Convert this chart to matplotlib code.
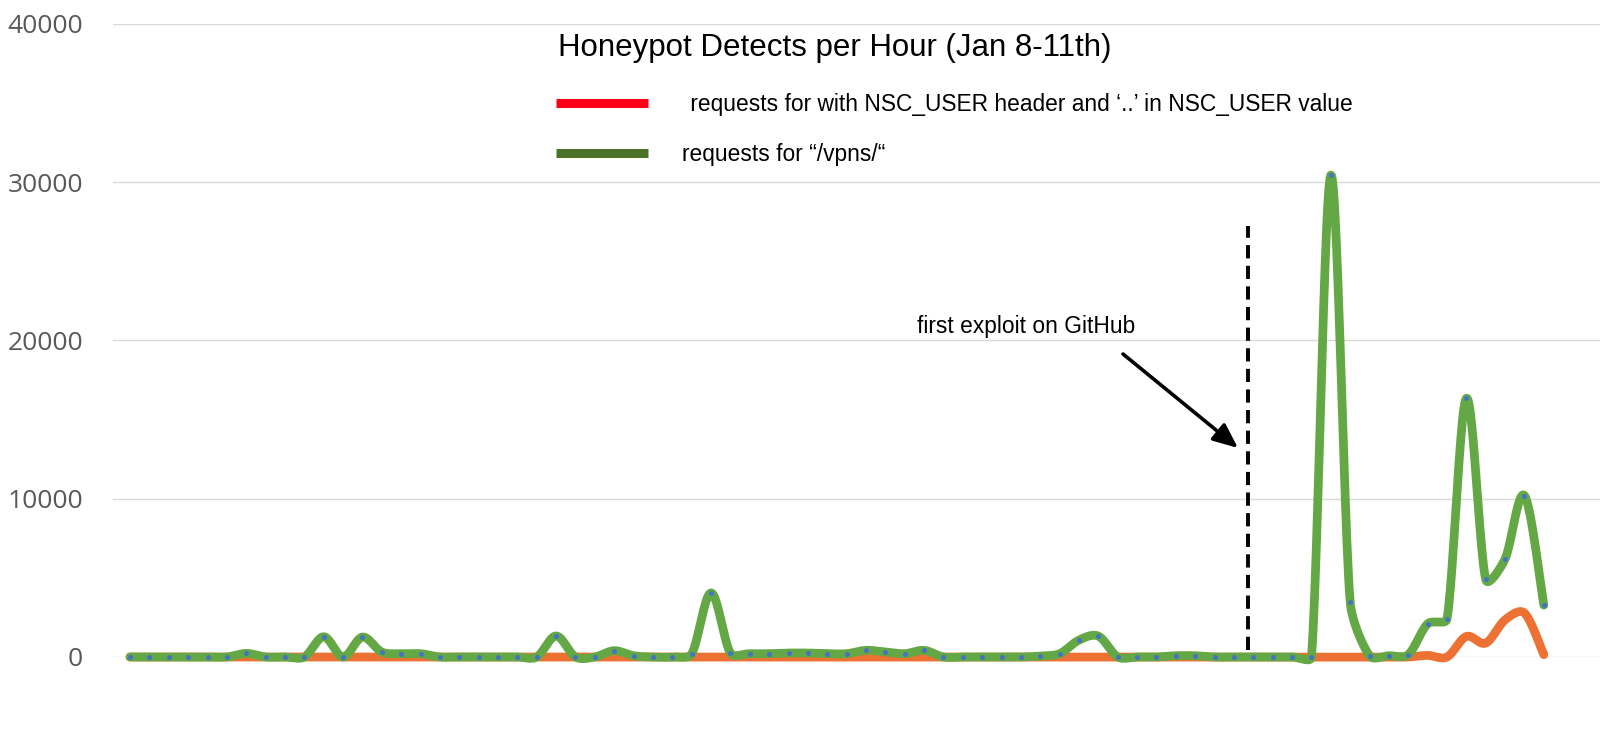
import numpy as np
import matplotlib
matplotlib.use('Agg')
import matplotlib.pyplot as plt
from matplotlib.lines import Line2D

# hourly detect counts, Jan 8-11
vpns_requests = [
    0, 0, 0, 0, 0, 0, 230, 0, 0, 0,
    1280, 0, 1260, 310, 210, 210, 0, 0, 0, 0,
    0, 0, 1330, 0, 0, 400, 80, 0, 0, 200,
    4050, 250, 210, 210, 250, 250, 210, 210, 420, 320,
    210, 420, 0, 0, 0, 0, 0, 60, 210, 1070,
    1320, 0, 0, 0, 80, 80, 0, 0, 0, 0,
    0, 0, 30450, 3470, 80, 80, 150, 2100, 2400, 16350,
    4900, 6200, 10200, 3280,
]
nsc_user_requests = [0] * 67 + [100, 0, 1300, 880, 2350, 2780, 150]
hours = np.arange(len(vpns_requests))

exploit_hour = 57.7   # first exploit published on GitHub
yticks = [0, 10000, 20000, 30000, 40000]

title = 'Honeypot Detects per Hour (Jan 8-11th)'
label_nsc = ' requests for with NSC_USER header and \u2018..\u2019 in NSC_USER value'
label_vpns = 'requests for \u201c/vpns/\u201c'


def smooth(ax, x, y, n=24):
    # bezier smoothing done in screen space, roughly what excel's smoothed line does
    sx = ax.bbox.width / np.ptp(ax.get_xlim())
    sy = ax.bbox.height / np.ptp(ax.get_ylim())
    P = np.column_stack([np.asarray(x, float) * sx, np.asarray(y, float) * sy])
    m = len(P)
    tang = np.zeros_like(P)
    half = np.zeros(m)
    for i in range(m):
        a = P[max(i - 1, 0)]
        b = P[min(i + 1, m - 1)]
        d = b - a
        L = np.hypot(*d)
        tang[i] = d / L if L else 0
        half[i] = L / 2
    t = np.linspace(0, 1, n, endpoint=False)[:, None]
    pts = []
    for i in range(m - 1):
        seg = np.hypot(*(P[i + 1] - P[i]))
        c1 = P[i] + tang[i] * min(seg, half[i]) / 3
        c2 = P[i + 1] - tang[i + 1] * min(seg, half[i + 1]) / 3
        b = ((1 - t) ** 3 * P[i] + 3 * (1 - t) ** 2 * t * c1
             + 3 * (1 - t) * t ** 2 * c2 + t ** 3 * P[i + 1])
        pts.append(b)
    pts.append(P[-1:])
    pts = np.vstack(pts)
    return pts[:, 0] / sx, pts[:, 1] / sy


W, H = 1600, 730
fig = plt.figure(figsize=(W / 100, H / 100), dpi=100)
ax = fig.add_axes([113 / W, 73 / H, (W - 113) / W, (657 - 24) / H])

ax.set_xlim(-0.88, 75.9)
ax.set_ylim(0, 40000)

sx, sy = smooth(ax, hours, nsc_user_requests)
ax.plot(sx, sy, color='#ED7133', lw=6.3, solid_capstyle='round', clip_on=False, zorder=3)
sx, sy = smooth(ax, hours, vpns_requests)
ax.plot(sx, sy, color='#64A745', lw=6.3, solid_capstyle='round', clip_on=False, zorder=4)
ax.plot(hours, vpns_requests, 'o', color='#4472C4', ms=3.6, mew=0, clip_on=False, zorder=5)

ax.vlines(exploit_hour, 440, 27230, colors='black', linestyles=(0, (3.4, 1.9)), lw=2.8, zorder=6)

# axis styling
ax.set_yticks(yticks)
ax.set_yticklabels([str(v) for v in yticks], fontsize=19, color='#595959', family='Open Sans')
ax.tick_params(axis='y', length=0, pad=21.5)
ax.set_xticks([])
ax.grid(axis='y', color='#D9D9D9', lw=1)
ax.set_axisbelow(True)
for s in ax.spines.values():
    s.set_visible(False)

# title and hand-drawn legend
fig.text(558 / W, 1 - 48 / H, title, fontsize=22.5, family='Liberation Sans', ha='left', va='center')
fig.add_artist(Line2D([556 / W, 648 / W], [1 - 103 / H] * 2, color='#FF0019', lw=6.5,
                      solid_capstyle='butt'))
fig.add_artist(Line2D([556 / W, 648 / W], [1 - 153 / H] * 2, color='#4A7229', lw=6.5,
                      solid_capstyle='butt'))
fig.text(684 / W, 1 - 104 / H, label_nsc, fontsize=16.4, family='Liberation Sans', ha='left', va='center')
fig.text(682 / W, 1 - 154 / H, label_vpns, fontsize=16.4, family='Liberation Sans', ha='left', va='center')

# annotation
ax.annotate('', xy=(1238, H - 448), xycoords='figure pixels',
            xytext=(1123, H - 354), textcoords='figure pixels',
            arrowprops=dict(arrowstyle='-|>,head_length=1.5,head_width=0.65', color='black', lw=2.6,
                            shrinkA=0, shrinkB=0))
fig.text(917 / W, 1 - 327 / H, 'first exploit on GitHub', fontsize=16.4, family='Liberation Sans',
         ha='left', va='center')

fig.savefig('out.png', dpi=100)
